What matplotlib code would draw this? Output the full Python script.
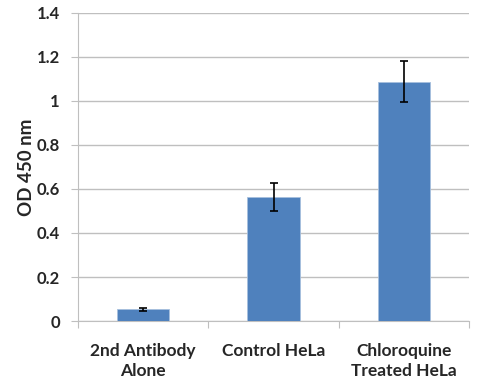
import matplotlib
matplotlib.use("Agg")
import matplotlib.pyplot as plt

categories = ["2nd Antibody\nAlone", "Control HeLa", "Chloroquine\nTreated HeLa"]
values = [0.053, 0.562, 1.088]
errors = [0.007, 0.063, 0.092]
yticks = [0, 0.2, 0.4, 0.6, 0.8, 1, 1.2, 1.4]
ytick_labels = ["0", "0.2", "0.4", "0.6", "0.8", "1", "1.2", "1.4"]

plt.rcParams['font.family'] = ['Lato', 'DejaVu Sans']

fig = plt.figure(figsize=(4.81, 3.89), dpi=100)
ax = fig.add_axes([0.1622, 0.1748, 0.9751 - 0.1622, 0.9666 - 0.1748])

x = list(range(len(categories)))
ax.bar(x, values, width=0.4, color="#4F81BD", edgecolor="#A7C0DE", linewidth=0.6, zorder=3)
ax.errorbar(x, values, yerr=errors, fmt="none", ecolor="black", elinewidth=1.2,
            capsize=3.2, capthick=1.2, zorder=4)

ax.set_xlim(-0.5, 2.5)
ax.set_ylim(0, 1.4)
ax.set_yticks(yticks)
ax.set_yticklabels(ytick_labels, fontsize=12, fontweight="bold", color="#262626")
ax.yaxis.grid(True, color="#BFBFBF", linewidth=1.0, zorder=0)
ax.set_axisbelow(True)

ax.set_xticks([-0.5, 0.5, 1.5, 2.5])
ax.set_xticklabels([])
ax.set_xticks(x, minor=True)
ax.set_xticklabels(categories, minor=True, fontsize=12.5, fontweight="bold", color="#262626",
                   linespacing=1.3)
ax.tick_params(axis="x", which="minor", length=0, pad=16)
ax.tick_params(axis="x", which="major", length=5, color="#BFBFBF", direction="out")
ax.tick_params(axis="y", length=5, color="#BFBFBF", pad=8)

for s in ["top", "right"]:
    ax.spines[s].set_visible(False)
for s in ["left", "bottom"]:
    ax.spines[s].set_color("#BFBFBF")

ax.set_ylabel("OD 450 nm", fontsize=13.5, fontweight="bold", color="#262626", labelpad=1)

fig.savefig("out.png", dpi=100)
